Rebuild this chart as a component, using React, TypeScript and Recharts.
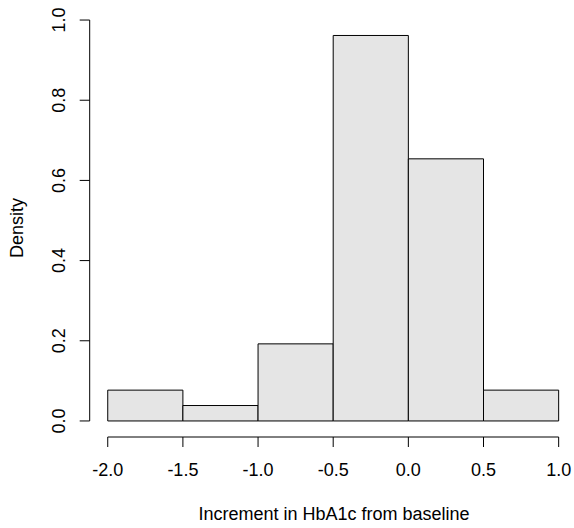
import {
  ComposedChart, XAxis, YAxis, ReferenceArea, ReferenceLine, Label,
} from 'recharts';

// histogram bins (width 0.5) and their densities
const binStart = [-2.0, -1.5, -1.0, -0.5, 0.0, 0.5];
const binEnd = [-1.5, -1.0, -0.5, 0.0, 0.5, 1.0];
const density = [0.0769, 0.0385, 0.1923, 0.9615, 0.6538, 0.0769];

const xTicks = [-2.0, -1.5, -1.0, -0.5, 0.0, 0.5, 1.0];
const yTicks = [0.0, 0.2, 0.4, 0.6, 0.8, 1.0];

const data = binStart.map((s, i) => ({ mid: (s + binEnd[i]) / 2, d: density[i] }));

const FONT = '"Liberation Sans", Arial, sans-serif';
const FS = 18;

const YTick = (p: any) => (
  <text
    x={65}
    y={p.y}
    transform={`rotate(-90, 65, ${p.y})`}
    textAnchor="middle"
    fontSize={FS}
    fontFamily={FONT}
    fill="#000"
  >
    {p.payload.value.toFixed(1)}
  </text>
);

export default function App() {
  return (
    <div style={{ position: 'absolute', left: 0, top: 0, background: '#fff' }}>
      <ComposedChart
        width={574}
        height={528}
        data={data}
        margin={{ top: 4, right: 0.3, left: 0, bottom: 0 }}
      >
        <XAxis
          type="number"
          dataKey="mid"
          domain={[-2.12, 1.1]}
          allowDataOverflow
          ticks={xTicks}
          tickFormatter={(v: number) => v.toFixed(1)}
          axisLine={false}
          tickSize={10}
          tickMargin={16}
          tickLine={{ stroke: '#000' }}
          tick={{ fill: '#000', fontSize: FS, fontFamily: FONT }}
          height={91}
          interval={0}
        >
          <Label
            content={() => (
              <text x={334} y={520} textAnchor="middle" fontSize={FS} fontFamily={FONT} fill="#000">
                Increment in HbA1c from baseline
              </text>
            )}
          />
        </XAxis>
        <YAxis
          type="number"
          domain={[-0.04, 1.04]}
          allowDataOverflow
          ticks={yTicks}
          axisLine={false}
          tickSize={10}
          tickLine={{ stroke: '#000' }}
          tick={<YTick />}
          width={89.7}
          interval={0}
        >
          <Label
            content={() => (
              <text
                x={22.5}
                y={228}
                transform="rotate(-90, 22.5, 228)"
                textAnchor="middle"
                fontSize={FS}
                fontFamily={FONT}
                fill="#000"
              >
                Density
              </text>
            )}
          />
        </YAxis>
        {binStart.map((s, i) => (
          <ReferenceArea
            key={s}
            x1={s}
            x2={binEnd[i]}
            y1={0}
            y2={density[i]}
            fill="#e5e5e5"
            fillOpacity={1}
            stroke="#000"
            strokeWidth={1}
            ifOverflow="visible"
          />
        ))}
        <ReferenceLine
          segment={[{ x: xTicks[0], y: -0.04 }, { x: xTicks[xTicks.length - 1], y: -0.04 }]}
          stroke="#000"
          ifOverflow="visible"
        />
        <ReferenceLine
          segment={[{ x: -2.12, y: yTicks[0] }, { x: -2.12, y: yTicks[yTicks.length - 1] }]}
          stroke="#000"
          ifOverflow="visible"
        />
      </ComposedChart>
    </div>
  );
}
